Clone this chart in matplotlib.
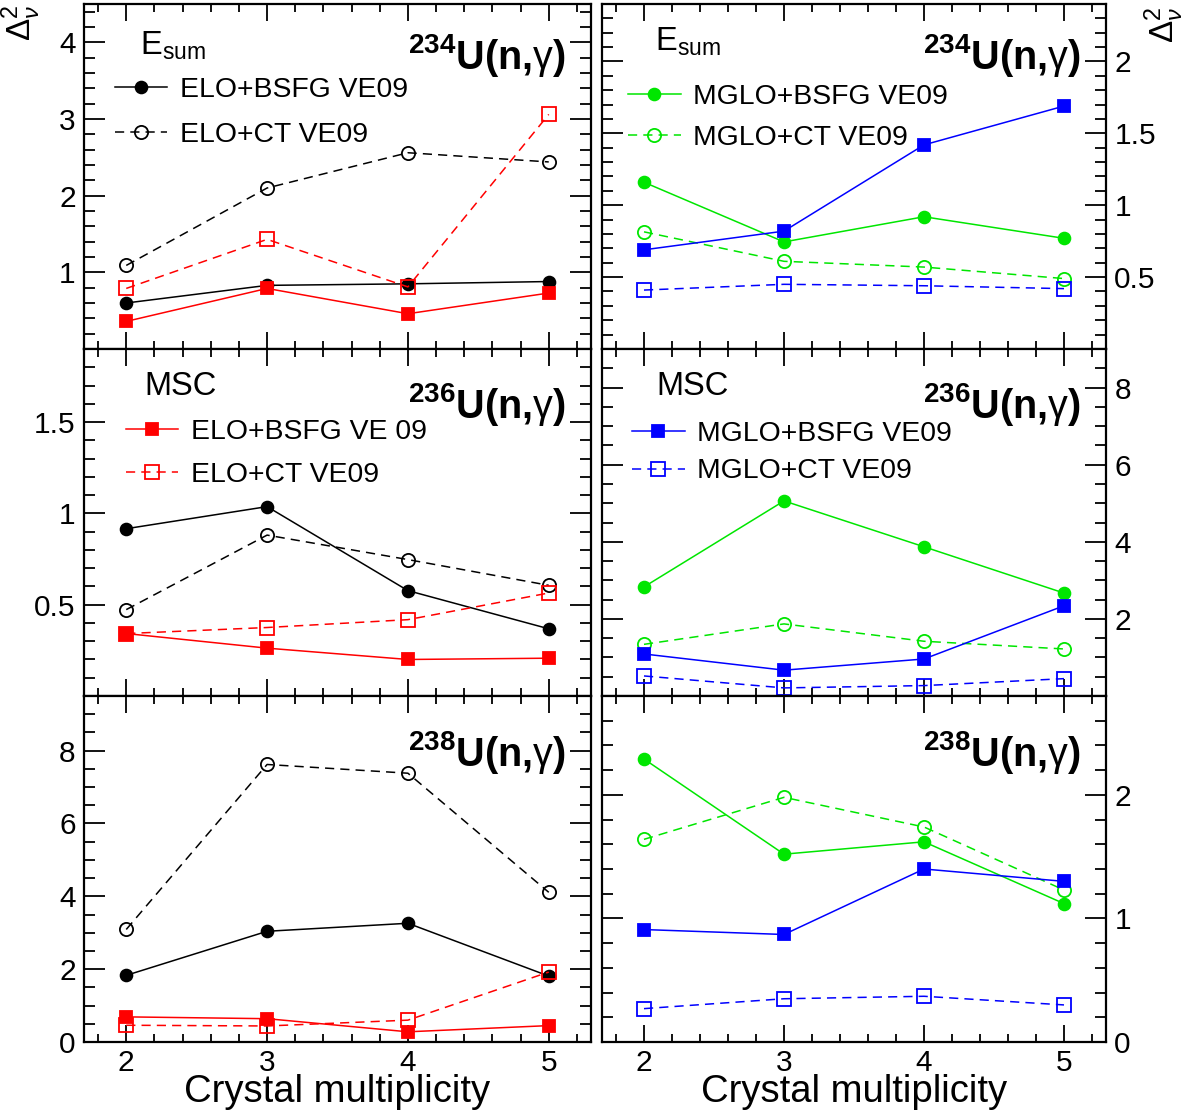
import matplotlib
matplotlib.use("Agg")
from matplotlib import pyplot as plt
from matplotlib.ticker import MultipleLocator, FixedLocator, FuncFormatter

plt.rcParams['font.family'] = ['Liberation Sans', 'DejaVu Sans']
plt.rcParams['mathtext.fontset'] = 'custom'
plt.rcParams['mathtext.rm'] = 'Liberation Sans'
plt.rcParams['mathtext.it'] = 'Liberation Sans:italic'
plt.rcParams['mathtext.bf'] = 'Liberation Sans:bold'

mult = [2, 3, 4, 5]

# 234U(n,g), Esum
u234_elo_bsfg = [0.60, 0.83, 0.85, 0.88]
u234_elo_ct = [1.09, 2.10, 2.56, 2.44]
u234_elo_bsfg_r = [0.36, 0.79, 0.46, 0.73]
u234_elo_ct_r = [0.79, 1.43, 0.81, 3.06]
u234_mglo_bsfg = [1.16, 0.745, 0.92, 0.77]
u234_mglo_ct = [0.815, 0.61, 0.57, 0.49]
u234_mglo_bsfg_b = [0.69, 0.82, 1.42, 1.69]
u234_mglo_ct_b = [0.41, 0.45, 0.44, 0.42]

# 236U(n,g), MSC
u236_elo_bsfg = [0.916, 1.037, 0.577, 0.368]
u236_elo_ct = [0.473, 0.881, 0.747, 0.606]
u236_elo_bsfg_r = [0.342, 0.262, 0.20, 0.207]
u236_elo_ct_r = [0.342, 0.375, 0.418, 0.564]
u236_mglo_bsfg = [2.83, 5.06, 3.87, 2.67]
u236_mglo_ct = [1.34, 1.87, 1.42, 1.22]
u236_mglo_bsfg_b = [1.09, 0.67, 0.96, 2.34]
u236_mglo_ct_b = [0.52, 0.21, 0.27, 0.45]

# 238U(n,g)
u238_elo_bsfg = [1.83, 3.04, 3.26, 1.81]
u238_elo_ct = [3.09, 7.62, 7.38, 4.11]
u238_elo_bsfg_r = [0.69, 0.64, 0.28, 0.45]
u238_elo_ct_r = [0.46, 0.44, 0.60, 1.92]
u238_mglo_bsfg = [2.29, 1.52, 1.62, 1.12]
u238_mglo_ct = [1.64, 1.98, 1.74, 1.23]
u238_mglo_bsfg_b = [0.91, 0.87, 1.40, 1.30]
u238_mglo_ct_b = [0.27, 0.35, 0.37, 0.30]

GREEN = '#00e600'
BLUE = '#0000ff'
RED = '#ff0000'

W, H = 1190, 1115
fig = plt.figure(figsize=(W / 100, H / 100), dpi=100)

# panel boxes in pixels: (left, right) and (top, bottom)
cols = [(84, 591), (602, 1106)]
rows = [(4, 349), (349, 696), (696, 1042)]


def make_ax(r, c):
    x0, x1 = cols[c]
    y0, y1 = rows[r]
    return fig.add_axes([x0 / W, 1 - y1 / H, (x1 - x0) / W, (y1 - y0) / H])


def style(ax, ylim, ymaj, ymin, right, xlabels):
    ax.set_xlim(1.7, 5.3)
    ax.set_ylim(*ylim)
    ax.xaxis.set_major_locator(FixedLocator(mult))
    ax.xaxis.set_minor_locator(MultipleLocator(0.2))
    ax.yaxis.set_major_locator(FixedLocator(ymaj))
    ax.yaxis.set_minor_locator(MultipleLocator(ymin))
    ax.yaxis.set_major_formatter(FuncFormatter(lambda v, p: '%g' % v))
    ax.tick_params(axis='both', which='both', direction='in', top=True, right=True,
                   labelsize=21.5, width=1.3)
    ax.tick_params(axis='y', which='major', length=15, pad=6)
    ax.tick_params(axis='y', which='minor', length=8)
    ax.tick_params(axis='x', which='major', length=12, pad=5)
    ax.tick_params(axis='x', which='minor', length=6)
    if right:
        ax.tick_params(axis='y', labelleft=False, labelright=True)
    if not xlabels:
        ax.tick_params(axis='x', labelbottom=False)
    else:
        ax.set_xlabel('Crystal multiplicity', fontsize=27.5, labelpad=-2)
    for s in ax.spines.values():
        s.set_linewidth(1.6)


def series(ax, y, color, marker, dashed, ms, label=None):
    fill = 'full' if not dashed else 'none'
    ax.plot(mult, y, color=color, lw=1.1, ls=(0, (6, 4)) if dashed else '-',
            marker=marker, ms=ms, fillstyle=fill, mew=1.3, label=label)


def reaction(ax, a, ytext):
    ax.text(0.95, ytext, r'$^{\mathbf{%d}}\mathbf{U(n{,}}\mathrm{\gamma}\mathbf{)}$' % a,
            transform=ax.transAxes, ha='right', va='center', fontsize=28.5)


def leg(ax, x, y, spacing):
    ax.legend(loc='center left', bbox_to_anchor=(x, y), frameon=False, fontsize=20.4,
              handlelength=1.85, handletextpad=0.45, labelspacing=spacing, numpoints=1,
              borderpad=0, borderaxespad=0)


# top left
ax = make_ax(0, 0)
series(ax, u234_elo_bsfg, 'black', 'o', False, 8.5, 'ELO+BSFG VE09')
series(ax, u234_elo_ct, 'black', 'o', True, 9.5, 'ELO+CT VE09')
series(ax, u234_elo_bsfg_r, RED, 's', False, 8.5)
series(ax, u234_elo_ct_r, RED, 's', True, 9.5)
style(ax, (0, 4.5), [1, 2, 3, 4], 0.2, False, False)
ax.text(0.11, 0.88, r'E$_{\rm sum}$', transform=ax.transAxes, ha='left', va='center', fontsize=23.5)
reaction(ax, 234, 0.852)
leg(ax, 0.061, 0.685, 0.68)
ax.set_ylabel(r'$\Delta^{2}_{\nu}$', fontsize=24)
ax.yaxis.set_label_coords(-0.081, 0.945)

# top right
ax = make_ax(0, 1)
series(ax, u234_mglo_bsfg, GREEN, 'o', False, 8.5, 'MGLO+BSFG VE09')
series(ax, u234_mglo_ct, GREEN, 'o', True, 9.5, 'MGLO+CT VE09')
series(ax, u234_mglo_bsfg_b, BLUE, 's', False, 8.5)
series(ax, u234_mglo_ct_b, BLUE, 's', True, 9.5)
style(ax, (0, 2.4), [0.5, 1, 1.5, 2], 0.1, True, False)
ax.text(0.105, 0.89, r'E$_{\rm sum}$', transform=ax.transAxes, ha='left', va='center', fontsize=23.5)
reaction(ax, 234, 0.852)
leg(ax, 0.052, 0.671, 0.52)
ax.yaxis.set_label_position('right')
ax.set_ylabel(r'$\Delta^{2}_{\nu}$', fontsize=24)
ax.yaxis.set_label_coords(1.073, 0.939)

# middle left
ax = make_ax(1, 0)
series(ax, u236_elo_bsfg, 'black', 'o', False, 8.5)
series(ax, u236_elo_ct, 'black', 'o', True, 9.5)
series(ax, u236_elo_bsfg_r, RED, 's', False, 8.5, 'ELO+BSFG VE 09')
series(ax, u236_elo_ct_r, RED, 's', True, 9.5, 'ELO+CT VE09')
style(ax, (0, 1.9), [0.5, 1, 1.5], 0.1, False, False)
ax.text(0.12, 0.892, 'MSC', transform=ax.transAxes, ha='left', va='center', fontsize=23.5)
reaction(ax, 236, 0.841)
leg(ax, 0.083, 0.699, 0.61)

# middle right
ax = make_ax(1, 1)
series(ax, u236_mglo_bsfg, GREEN, 'o', False, 8.5)
series(ax, u236_mglo_ct, GREEN, 'o', True, 9.5)
series(ax, u236_mglo_bsfg_b, BLUE, 's', False, 8.5, 'MGLO+BSFG VE09')
series(ax, u236_mglo_ct_b, BLUE, 's', True, 9.5, 'MGLO+CT VE09')
style(ax, (0, 9), [2, 4, 6, 8], 0.5, True, False)
ax.text(0.107, 0.892, 'MSC', transform=ax.transAxes, ha='left', va='center', fontsize=23.5)
reaction(ax, 236, 0.841)
leg(ax, 0.06, 0.701, 0.4)

# bottom left
ax = make_ax(2, 0)
series(ax, u238_elo_bsfg, 'black', 'o', False, 8.5)
series(ax, u238_elo_ct, 'black', 'o', True, 9.5)
series(ax, u238_elo_bsfg_r, RED, 's', False, 8.5)
series(ax, u238_elo_ct_r, RED, 's', True, 9.5)
style(ax, (0, 9.5), [0, 2, 4, 6, 8], 0.5, False, True)
reaction(ax, 238, 0.838)

# bottom right
ax = make_ax(2, 1)
series(ax, u238_mglo_bsfg, GREEN, 'o', False, 8.5)
series(ax, u238_mglo_ct, GREEN, 'o', True, 9.5)
series(ax, u238_mglo_bsfg_b, BLUE, 's', False, 8.5)
series(ax, u238_mglo_ct_b, BLUE, 's', True, 9.5)
style(ax, (0, 2.8), [0, 1, 2], 0.2, True, True)
reaction(ax, 238, 0.838)

fig.savefig('out.png', dpi=100)
